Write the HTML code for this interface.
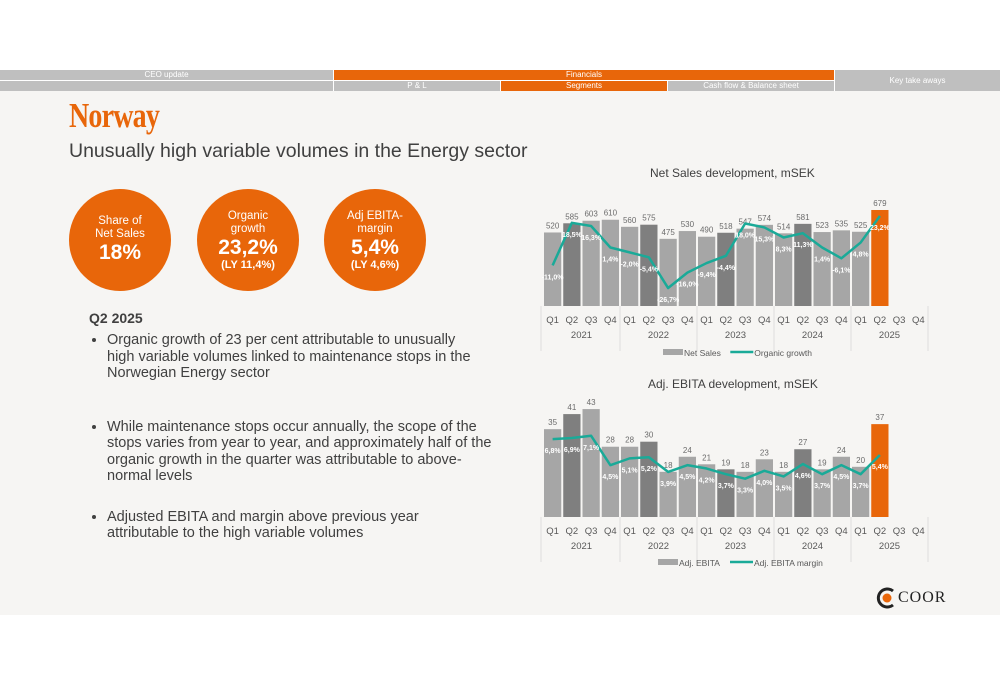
<!DOCTYPE html>
<html><head><meta charset="utf-8"><style>
body{margin:0;width:1000px;height:685px;background:#fff;font-family:"Liberation Sans",sans-serif;position:relative;overflow:hidden}
.abs{position:absolute}
.nav{position:absolute;color:#fff;font-size:8px;text-align:center;line-height:10px}
.g{background:#bfbfbf}.o{background:#e8660a}
.circ{position:absolute;width:102px;height:102px;border-radius:50%;background:#e8660a;color:#fff;text-align:center;display:flex;flex-direction:column;justify-content:center}
ul{margin:0;padding-left:18px}
li{font-size:14.5px;color:#404040;line-height:16.5px;white-space:nowrap}
</style></head><body>
<div class="abs" style="left:0;top:91px;width:1000px;height:524px;background:#f6f5f3"></div>
<div class="nav g" style="left:0;top:70px;width:333px;height:10px">CEO update</div>
<div class="nav o" style="left:334px;top:70px;width:500px;height:10px">Financials</div>
<div class="nav g" style="left:835px;top:70px;width:165px;height:21px;line-height:21px">Key take aways</div>
<div class="nav g" style="left:0;top:81px;width:333px;height:10px"></div>
<div class="nav g" style="left:334px;top:81px;width:166px;height:10px">P &amp; L</div>
<div class="nav o" style="left:501px;top:81px;width:166px;height:10px">Segments</div>
<div class="nav g" style="left:668px;top:81px;width:166px;height:10px">Cash flow &amp; Balance sheet</div>

<div class="abs" style="left:69px;top:96px;font-family:'Liberation Serif',serif;font-weight:bold;font-size:35px;color:#e8660a;letter-spacing:-1px;transform:scaleX(0.8);transform-origin:left top">Norway</div>
<div class="abs" style="left:69px;top:140px;font-size:19.5px;color:#404040">Unusually high variable volumes in the Energy sector</div>

<div class="circ" style="left:69px;top:189px"><div style="font-size:11.5px;line-height:13px">Share of<br>Net Sales</div><div style="font-size:21px;font-weight:bold">18%</div></div>
<div class="circ" style="left:197px;top:189px"><div style="font-size:11.5px;line-height:13px">Organic<br>growth</div><div style="font-size:21px;font-weight:bold;line-height:23px">23,2%</div><div style="font-size:11px;font-weight:bold">(LY 11,4%)</div></div>
<div class="circ" style="left:324px;top:189px"><div style="font-size:11.5px;line-height:13px">Adj EBITA-<br>margin</div><div style="font-size:21px;font-weight:bold;line-height:23px">5,4%</div><div style="font-size:11px;font-weight:bold">(LY 4,6%)</div></div>

<div class="abs" style="left:89px;top:310px;font-size:14px;font-weight:bold;color:#404040">Q2 2025</div>
<div class="abs" style="left:89px;top:332px;width:420px">
<ul>
<li>Organic growth of 23 per cent attributable to unusually<br>high variable volumes linked to maintenance stops in the<br>Norwegian Energy sector</li>
<li style="margin-top:37px">While maintenance stops occur annually, the scope of the<br>stops varies from year to year, and approximately half of the<br>organic growth in the quarter was attributable to above-<br>normal levels</li>
<li style="margin-top:24px">Adjusted EBITA and margin above previous year<br>attributable to the high variable volumes</li>
</ul></div>

<div class="abs" style="left:650px;top:166px;font-size:12px;color:#404040">Net Sales development, mSEK</div>
<div class="abs" style="left:648px;top:377px;font-size:12px;color:#404040">Adj. EBITA development, mSEK</div>

<svg class="abs" style="left:0;top:0" width="1000" height="685" id="charts"></svg>

<div class="abs" style="left:875px;top:587px;width:72px;height:22px">
<svg width="22" height="22" style="position:absolute;left:0;top:0"><path d="M18 4 A9 9 0 1 0 18 18" fill="none" stroke="#222" stroke-width="3"/><circle cx="12" cy="11" r="4.5" fill="#e8660a"/></svg>
<span style="position:absolute;left:23px;top:2px;font-family:'Liberation Serif',serif;font-size:16px;color:#222;letter-spacing:1px">COOR</span></div>

<script>
const quarters=["Q1","Q2","Q3","Q4","Q1","Q2","Q3","Q4","Q1","Q2","Q3","Q4","Q1","Q2","Q3","Q4","Q1","Q2","Q3","Q4"];
const years=["2021","2022","2023","2024","2025"];
const netSales=[520,585,603,610,560,575,475,530,490,518,547,574,514,581,523,535,525,679];
const organicGrowth=[-11.0,18.5,16.3,1.4,-2.0,-5.4,-26.7,-16.0,-9.4,-4.4,18.0,15.3,8.3,11.3,1.4,-6.1,4.8,23.2];
const adjEbita=[35,41,43,28,28,30,18,24,21,19,18,23,18,27,19,24,20,37];
const ebitaMargin=[6.8,6.9,7.1,4.5,5.1,5.2,3.9,4.5,4.2,3.7,3.3,4.0,3.5,4.6,3.7,4.5,3.7,5.4];

const svg=document.getElementById('charts');
const NS='http://www.w3.org/2000/svg';
function mk(tag,attrs,parent){const e=document.createElementNS(NS,tag);for(const k in attrs)e.setAttribute(k,attrs[k]);(parent||svg).appendChild(e);return e;}
const x0=543,slot=19.25;
function xs(i){return x0+slot*i;}
function fmt(v){return v.toFixed(1).replace('.',',')+'%';}

function drawChart(opt){
  const {base,vals,barScale,line,lineZero,lineScale,legendY,legendA,legendB,name}=opt;
  const g=mk('g',{});
  
  
  vals.forEach((v,i)=>{
    const h=v*barScale;
    const col=i===17?'#e8660a':(i%4===1?'#7f7f7f':'#a6a6a6');
    const r=mk('rect',{x:xs(i)+1,y:base-h,width:slot-2,height:h,fill:col},g);
    
    
    const t=mk('text',{x:xs(i)+slot/2,y:base-h-4,'text-anchor':'middle','font-size':'8','fill':'#6b6b6b'},g);
    t.textContent=v;
    
    
  });
  const pts=line.map((v,i)=>[xs(i)+slot/2,lineZero-v*lineScale]);
  const pl=mk('polyline',{points:pts.map(p=>p.join(',')).join(' '),fill:'none',stroke:'#1aaa98','stroke-width':'2.5','stroke-linejoin':'round'},g);
  
  
  line.forEach((v,i)=>{
    const t=mk('text',{x:pts[i][0],y:pts[i][1]+14,'text-anchor':'middle','font-size':'7','font-weight':'bold','fill':'#fff'},g);
    t.textContent=fmt(v);
    
    
  });
  mk('line',{x1:x0-2,y1:base,x2:x0-2,y2:base+45,stroke:'#ddd','stroke-width':'1'},g);
  for(let y=0;y<5;y++){const xx=xs(y*4+4);mk('line',{x1:xx,y1:base,x2:xx,y2:base+45,stroke:'#ddd','stroke-width':'1'},g);}
  quarters.forEach((q,i)=>{
    const t=mk('text',{x:xs(i)+slot/2,y:base+17,'text-anchor':'middle','font-size':'9.5','fill':'#595959'},g);
    t.textContent=q;
    
    
  });
  years.forEach((yr,j)=>{
    const t=mk('text',{x:xs(j*4)+slot*2,y:base+32,'text-anchor':'middle','font-size':'9.5','fill':'#595959'},g);
    t.textContent=yr;
    
    
  });
  const lg=mk('g',{},g);
  
  
  const lx=opt.legendX;
  mk('rect',{x:lx,y:legendY-4,width:20,height:6,fill:'#a6a6a6'},lg);
  const a=mk('text',{x:lx+21,y:legendY+3,'font-size':'8.5','fill':'#595959'},lg);a.textContent=legendA;
  const bx=lx+21+legendA.length*4.7+4;
  mk('line',{x1:bx,y1:legendY-1,x2:bx+23,y2:legendY-1,stroke:'#1aaa98','stroke-width':'2.5'},lg);
  const b=mk('text',{x:bx+24,y:legendY+3,'font-size':'8.5','fill':'#595959'},lg);b.textContent=legendB;
}
drawChart({name:'net-sales-chart',base:306,vals:netSales,barScale:0.1414,line:organicGrowth,lineZero:249.5,lineScale:1.443,legendY:353,legendX:663,legendA:'Net Sales',legendB:'Organic growth'});
drawChart({name:'adj-ebita-chart',base:517,vals:adjEbita,barScale:2.51,line:ebitaMargin,lineZero:516,lineScale:11.3,legendY:563,legendX:658,legendA:'Adj. EBITA',legendB:'Adj. EBITA margin'});
</script>
</body></html>
